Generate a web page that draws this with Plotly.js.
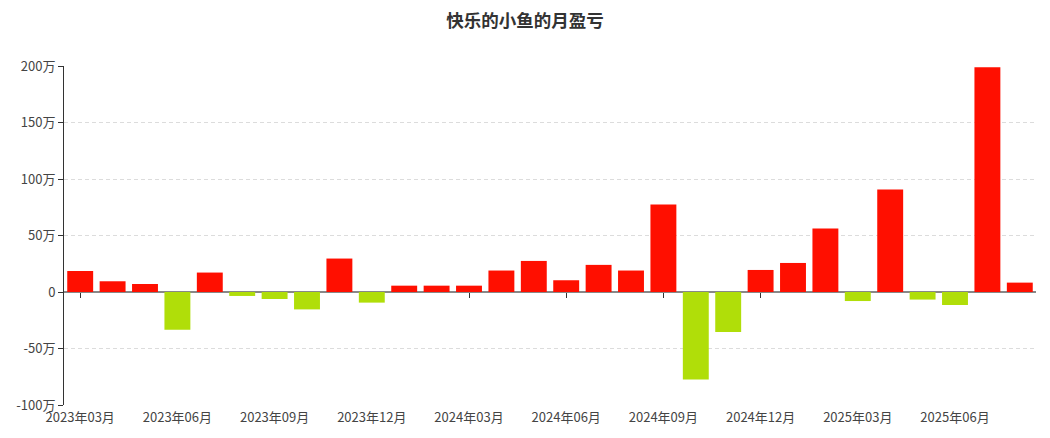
<!DOCTYPE html>
<html>
<head>
<meta charset="utf-8">
<script src="https://cdn.plot.ly/plotly-3.0.1.min.js"></script>
<style>html,body{margin:0;padding:0;background:#fff;}#chart{width:1050px;height:438px;}</style>
</head>
<body>
<div id="chart"></div>
<script>
var months = ["2023年03月","2023年04月","2023年05月","2023年06月","2023年07月","2023年08月","2023年09月","2023年10月","2023年11月","2023年12月",
"2024年01月","2024年02月","2024年03月","2024年04月","2024年05月","2024年06月","2024年07月","2024年08月","2024年09月","2024年10月",
"2024年11月","2024年12月","2025年01月","2025年02月","2025年03月","2025年04月","2025年05月","2025年06月","2025年07月","2025年08月"];
var profit = [18.6, 9.5, 7.1, -33.3, 17.2, -3.5, -6.2, -15.4, 29.6, -9.4,
5.6, 5.6, 5.6, 19.0, 27.5, 10.4, 24.0, 19.0, 77.5, -77.4,
-35.5, 19.5, 25.7, 56.2, -8.0, 90.8, -6.7, -11.5, 199.0, 8.3];
var tickMonths = ["2023年03月","2023年06月","2023年09月","2023年12月","2024年03月","2024年06月","2024年09月","2024年12月","2025年03月","2025年06月"];
var yTicks = [-100, -50, 0, 50, 100, 150, 200];
var yTickText = ["-100万", "-50万", "0", "50万", "100万", "150万", "200万"];

var colors = profit.map(function(v){ return v >= 0 ? "#ff0f00" : "#b0de09"; });

var font = "'Microsoft YaHei','Noto Sans CJK SC',sans-serif";
var data = [{
  type: "bar",
  x: months,
  y: profit,
  marker: {color: colors, line: {width: 0}},
  hoverinfo: "x+y"
},{
  type: "scatter",
  mode: "markers",
  x: months,
  y: profit,
  xaxis: "x2",
  marker: {opacity: 0},
  hoverinfo: "skip",
  showlegend: false
}];

var layout = {
  width: 1050, height: 438,
  margin: {l: 64, r: 14, t: 66, b: 33},
  paper_bgcolor: "#fff", plot_bgcolor: "#fff",
  showlegend: false,
  bargap: 0.2,
  title: {text: "快乐的小鱼的月盈亏", x: 0.5, xanchor: "center", y: 0.952, yanchor: "middle",
          font: {family: font, size: 17.5, color: "#333", weight: "bold"}},
  xaxis: {
    type: "category", categoryorder: "array", categoryarray: months,
    range: [-0.5, 29.5],
    tickmode: "array", tickvals: tickMonths, ticktext: tickMonths,
    showline: false, showgrid: false, zeroline: false, ticks: "",
    tickfont: {family: font, size: 13, color: "#444"},
    ticklabelstandoff: 3
  },
  xaxis2: {
    type: "category", categoryorder: "array", categoryarray: months,
    range: [-0.5, 29.5], overlaying: "x", anchor: "free", position: 1/3,
    tickmode: "array", tickvals: tickMonths,
    showticklabels: false, showgrid: false, zeroline: false,
    showline: true, linecolor: "#888", linewidth: 2,
    ticks: "outside", ticklen: 5, tickcolor: "#333", tickwidth: 1,
    layer: "below traces"
  },
  yaxis: {
    range: [-100, 200], tickmode: "array", tickvals: yTicks, ticktext: yTickText,
    showline: true, linecolor: "#333", linewidth: 1,
    ticks: "outside", ticklen: 5, tickcolor: "#333",
    showgrid: true, gridcolor: "#dcdcdc", griddash: "4px,3px", gridwidth: 1,
    zeroline: false,
    tickfont: {family: font, size: 13, color: "#444"}
  }
};

Plotly.newPlot("chart", data, layout, {displayModeBar: false, staticPlot: true});
</script>
</body>
</html>
